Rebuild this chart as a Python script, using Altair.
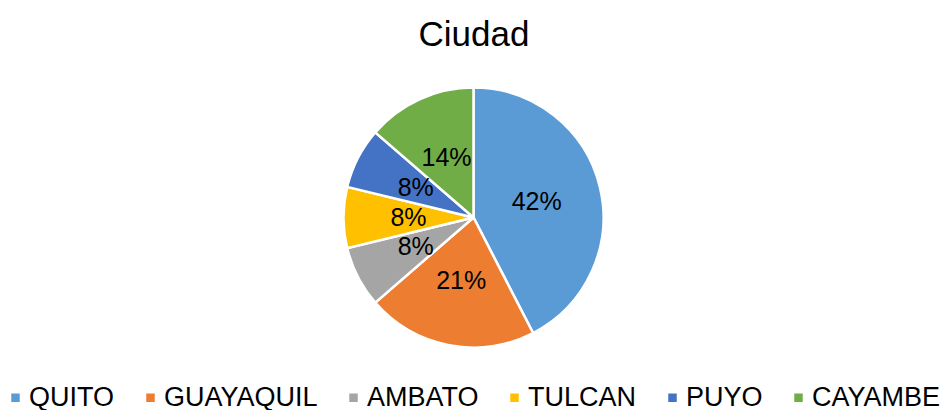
import altair as alt
import pandas as pd

cities = ["QUITO", "GUAYAQUIL", "AMBATO", "TULCAN", "PUYO", "CAYAMBE"]
counts = [28, 14, 5, 5, 5, 9]
colors = ["#5B9BD5", "#ED7D31", "#A5A5A5", "#FFC000", "#4472C4", "#70AD47"]

total = sum(counts)
df = pd.DataFrame({
    "ciudad": cities,
    "valor": counts,
    "orden": list(range(len(cities))),
    "pct": [f"{round(v / total * 100)}%" for v in counts],
})

FONT = "Liberation Sans"

base = alt.Chart(df).encode(
    theta=alt.Theta("valor:Q", stack=True),
    order=alt.Order("orden:Q", sort="ascending"),
    x=alt.value(465.5),
    y=alt.value(149.5),
)

pie = base.mark_arc(radius=130, stroke="white", strokeWidth=2.5).encode(
    color=alt.Color(
        "ciudad:N",
        scale=alt.Scale(domain=cities, range=colors),
        sort=cities,
        legend=alt.Legend(
            title=None,
            orient="none",
            direction="horizontal",
            legendX=-6,
            legendY=316,
            symbolType="square",
            symbolSize=72,
            symbolStrokeWidth=0,
            labelFont=FONT,
            labelFontSize=27,
            labelColor="#000000",
            labelOffset=0,
            columnPadding=22,
            labelLimit=400,
        ),
    )
)

labels = base.mark_text(
    radius=65, font=FONT, fontSize=25, color="#000000", baseline="middle", align="center"
).encode(text="pct:N")

chart = (
    alt.layer(pie, labels)
    .properties(
        width=932,
        height=342,
        padding={"top": 60, "left": 0, "right": 0, "bottom": 0},
        autosize=alt.AutoSizeParams(type="none"),
        title=alt.TitleParams(
            "Ciudad", font=FONT, fontSize=35, fontWeight="normal", color="#000000",
            anchor="middle", offset=15,
        ),
    )
    .configure_view(stroke=None)
)

chart.save("out.html", embed_options={"renderer": "svg", "actions": False})
